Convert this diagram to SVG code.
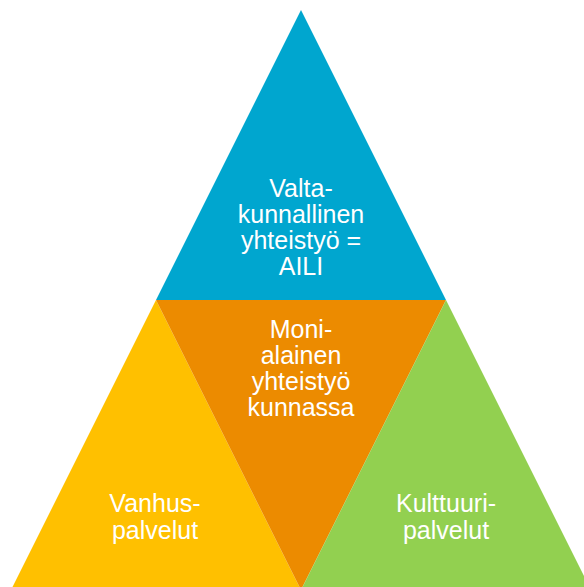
<svg xmlns="http://www.w3.org/2000/svg" width="584" height="587" viewBox="0 0 584 587">
  <style>
    .lbl { font-family: "Liberation Sans", Arial, sans-serif; font-size: 25px; fill: #ffffff; text-anchor: middle; }
  </style>
  <rect width="584" height="587" fill="#ffffff"/>
  <g id="top">
    <polygon points="301,10 156,300 446,300" fill="#00A6CF"/>
    <text class="lbl"><tspan x="301" y="197">Valta-</tspan><tspan x="301" y="223">kunnallinen</tspan><tspan x="301" y="249">yhteistyö =</tspan><tspan x="301" y="275">AILI</tspan></text>
  </g>
  <g id="left">
    <polygon points="156,300 11,590 301,590" fill="#FFC000"/>
    <text class="lbl"><tspan x="155" y="512">Vanhus-</tspan><tspan x="155" y="539">palvelut</tspan></text>
  </g>
  <g id="center">
    <polygon points="156,300 446,300 301,590" fill="#EC8B00"/>
    <text class="lbl"><tspan x="301" y="338">Moni-</tspan><tspan x="301" y="364">alainen</tspan><tspan x="301" y="390">yhteistyö</tspan><tspan x="301" y="416">kunnassa</tspan></text>
  </g>
  <g id="right">
    <polygon points="446,300 301,590 591,590" fill="#92D050"/>
    <text class="lbl"><tspan x="446" y="512">Kulttuuri-</tspan><tspan x="446" y="539">palvelut</tspan></text>
  </g>
  <g id="connectors"/>
</svg>
